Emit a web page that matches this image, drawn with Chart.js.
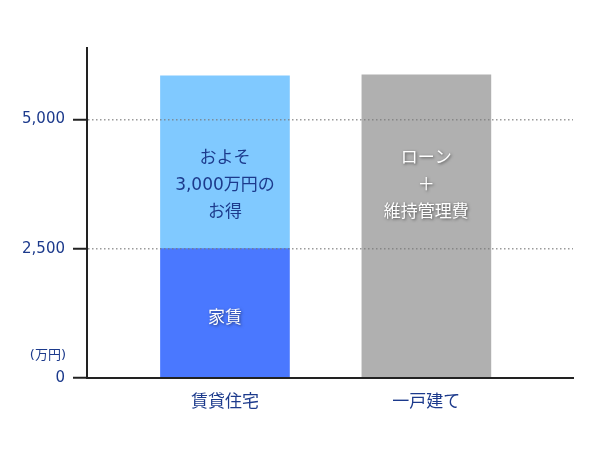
<!DOCTYPE html>
<html><head><meta charset="utf-8">
<script src="https://cdn.jsdelivr.net/npm/chart.js@4"></script>
<style>html,body{margin:0;padding:0;background:#fff}</style>
</head><body>
<canvas id="c" width="600" height="450"></canvas>
<script>
const categories = ['賃貸住宅', '一戸建て'];
const rentValues = [2500, null];
const savingValues = [3340, null];
const houseValues = [null, 5860];
const yTickValues = [0, 2500, 5000];
const yAxisMax = 6380;
const unitLabel = '(万円)';
const rentLabel = ['家賃'];
const savingLabel = ['およそ', '3,000万円の', 'お得'];
const houseLabel = ['ローン', '＋', '維持管理費'];

const NAVY = '#1c3a8c';
const FONT = '"DejaVu Sans", "Noto Sans CJK JP", sans-serif';

const toPoints = vals => vals.map((v, i) => ({x: i + 1, y: v}));

function drawLines(ctx, lines, x, yc, lh) {
  const start = yc - (lines.length - 1) * lh / 2;
  lines.forEach((t, i) => ctx.fillText(t, x, start + i * lh));
}

const barLabels = {
  id: 'barLabels',
  afterDraw(chart) {
    const ctx = chart.ctx;
    const ys = chart.scales.y;
    const lowMid = ys.getPixelForValue((yTickValues[0] + yTickValues[1]) / 2);
    const highMid = ys.getPixelForValue((yTickValues[1] + yTickValues[2]) / 2);
    const specs = [
      {ds: 0, lines: rentLabel, y: lowMid + 5, color: '#ffffff', shadow: true},
      {ds: 1, lines: savingLabel, y: highMid + 2, color: NAVY, shadow: false},
      {ds: 2, lines: houseLabel, y: highMid + 2, color: '#ffffff', shadow: true}
    ];
    ctx.save();
    ctx.textAlign = 'center';
    ctx.textBaseline = 'middle';
    ctx.font = '17px ' + FONT;
    specs.forEach(s => {
      const meta = chart.getDatasetMeta(s.ds);
      meta.data.forEach((el, i) => {
        if (chart.data.datasets[s.ds].data[i].y === null) return;
        ctx.save();
        ctx.fillStyle = s.color;
        if (s.shadow) {
          ctx.shadowColor = 'rgba(0,0,0,0.55)';
          ctx.shadowBlur = 3;
          ctx.shadowOffsetX = 1;
          ctx.shadowOffsetY = 1;
        }
        drawLines(ctx, s.lines, el.x, s.y, 27);
        ctx.restore();
      });
    });
    ctx.fillStyle = NAVY;
    ctx.textAlign = 'right';
    ctx.font = '13px ' + FONT;
    ctx.fillText(unitLabel, chart.chartArea.left - 21, ys.getPixelForValue(0) - 22);
    ctx.restore();
  }
};

new Chart(document.getElementById('c'), {
  type: 'bar',
  data: {
    datasets: [
      {label: '家賃', data: toPoints(rentValues), backgroundColor: '#4a78ff', borderWidth: 0, barThickness: 129},
      {label: 'お得', data: toPoints(savingValues), backgroundColor: '#80c9ff', borderWidth: 0, barThickness: 129},
      {label: 'ローン＋維持管理費', data: toPoints(houseValues), backgroundColor: '#b0b0b0', borderWidth: 0, barThickness: 129}
    ]
  },
  options: {
    responsive: false,
    animation: false,
    layout: {padding: {top: 48, right: 27, left: 0, bottom: 0}},
    plugins: {legend: {display: false}, tooltip: {enabled: false}},
    scales: {
      x: {
        type: 'linear',
        stacked: true,
        offset: false,
        min: 0.315,
        max: 2.728,
        afterFit: s => { s.height = 72; },
        afterBuildTicks: s => { s.ticks = categories.map((c, i) => ({value: i + 1})); },
        grid: {display: false, drawTicks: false, offset: false},
        border: {display: true, color: '#222', width: 2, z: 1},
        ticks: {
          autoSkip: false, maxRotation: 0, padding: 14,
          color: NAVY, font: {family: FONT, size: 17},
          callback: v => categories[Math.round(v) - 1]
        }
      },
      y: {
        stacked: true,
        min: 0,
        max: yAxisMax,
        afterFit: s => { s.width = 87; },
        afterBuildTicks: s => { s.ticks = yTickValues.map(v => ({value: v})); },
        grid: {
          z: 1,
          color: c => c.tick && c.tick.value === 0 ? 'rgba(0,0,0,0)' : 'rgba(120,120,120,0.75)',
          lineWidth: 1.5,
          tickLength: 14,
          tickColor: '#222',
          tickWidth: 2
        },
        border: {display: true, color: '#222', width: 2, dash: [1.5, 2.5], z: 1},
        ticks: {
          padding: 8, color: NAVY, font: {family: FONT, size: 15},
          callback: v => v.toLocaleString('en-US')
        }
      }
    }
  },
  plugins: [barLabels]
});
</script>
</body></html>
